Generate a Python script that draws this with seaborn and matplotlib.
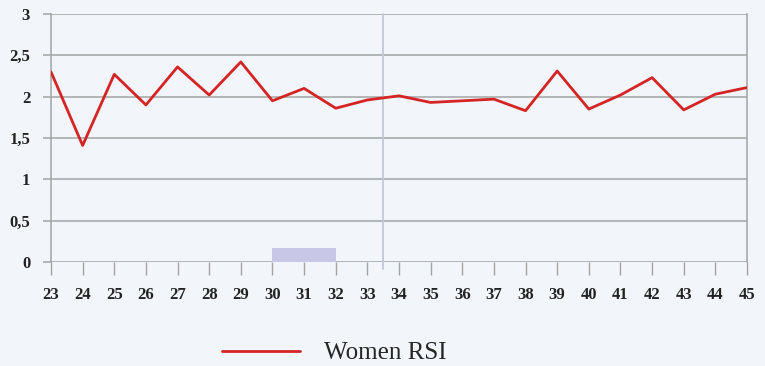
import matplotlib
matplotlib.use("Agg")
import matplotlib.pyplot as plt
import seaborn as sns
import pandas as pd

# ---- data ----
weeks = list(range(23, 46))
women_rsi = [2.30, 1.41, 2.27, 1.90, 2.36, 2.02, 2.42, 1.95, 2.10, 1.86, 1.96,
             2.01, 1.93, 1.95, 1.97, 1.83, 2.31, 1.85, 2.02, 2.23, 1.84, 2.03, 2.11]
y_ticks = [0, 0.5, 1, 1.5, 2, 2.5, 3]
y_tick_labels = ["0", "0,5", "1", "1,5", "2", "2,5", "3"]
divider_x = 33.5
highlight_weeks = [30, 32]
highlight_height = 0.17
series_name = "Women RSI"

df = pd.DataFrame({"week": weeks, "value": women_rsi})

sns.set_theme(style="white")
plt.rcParams["font.family"] = ["Liberation Serif", "DejaVu Serif"]

bg = "#f2f5fa"
grid_c = "#a3a3a3"

fig = plt.figure(figsize=(7.65, 3.66), dpi=100, facecolor=bg)
ax = fig.add_axes([51 / 765, 1 - 262 / 366, 696 / 765, 248 / 366])
ax.set_facecolor(bg)

# highlight block
ax.fill_between(highlight_weeks, 0, highlight_height, color="#c9c7e7", lw=0, zorder=1)

# divider line
ax.axvline(divider_x, ymin=-0.03, ymax=1, color="#c3c8da", lw=1.3, zorder=1, clip_on=False)

sns.lineplot(data=df, x="week", y="value", ax=ax, color="#d42424", lw=2.0,
             label=series_name, zorder=3)

ax.set_xlim(23, 45)
ax.set_ylim(0, 3)
ax.set_xticks(weeks)
ax.set_xticklabels([str(w) for w in weeks], fontsize=12, fontweight="bold", color="#222222")
ax.set_yticks(y_ticks)
ax.set_yticklabels(y_tick_labels, fontsize=12, fontweight="bold", color="#222222")
ax.set_xlabel("")
ax.set_ylabel("")

ax.yaxis.grid(True, color=grid_c, lw=1.1, zorder=0)
ax.xaxis.grid(False)
for s in ["top", "bottom"]:
    ax.spines[s].set_visible(False)
for s in ["left", "right"]:
    ax.spines[s].set_visible(True)
    ax.spines[s].set_color(grid_c)
    ax.spines[s].set_linewidth(1.1)

ax.tick_params(axis="x", direction="out", length=9.5, width=1, color=grid_c, pad=8.5, bottom=True)
ax.tick_params(axis="y", direction="out", length=6, width=1.1, color=grid_c, pad=9, left=True)

ax.legend_.remove()
handles, labels = ax.get_legend_handles_labels()
fig.legend(handles, labels, loc="center left", bbox_to_anchor=(222 / 765, 1 - 353 / 366),
           bbox_transform=fig.transFigure, frameon=False, borderpad=0, borderaxespad=0,
           handlelength=3.1, handletextpad=1.0,
           prop={"family": "Liberation Serif", "size": 18})

fig.savefig("out.png", dpi=100, facecolor=bg)
